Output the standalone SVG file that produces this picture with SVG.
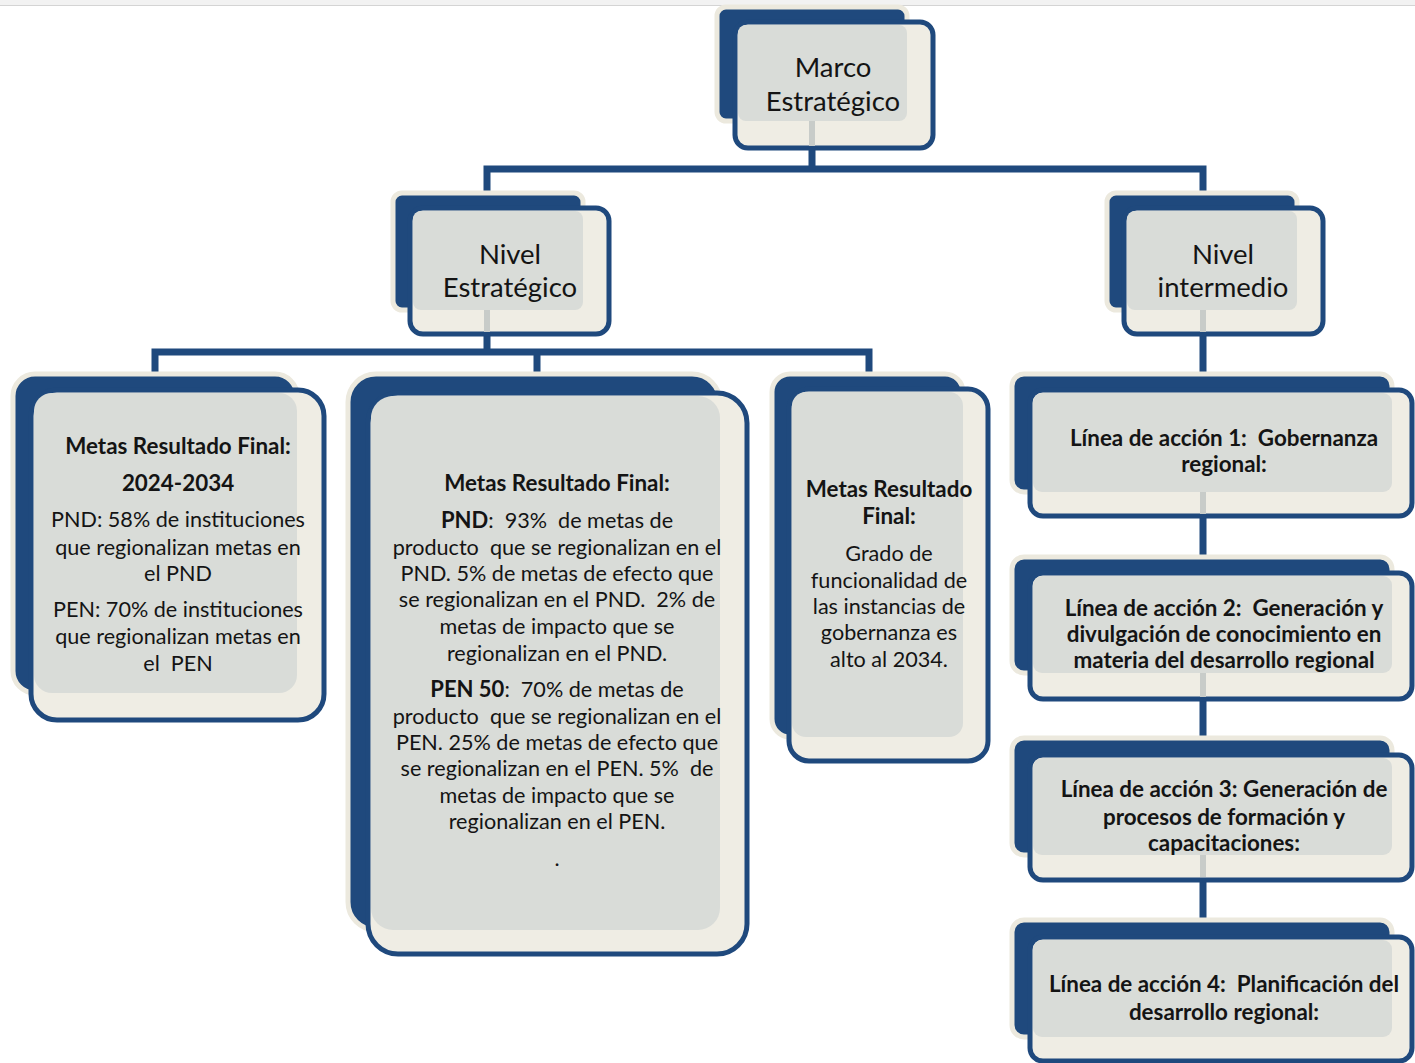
<svg xmlns="http://www.w3.org/2000/svg" width="1415" height="1063" viewBox="0 0 1415 1063" xml:space="preserve">
<style>
.bk{fill:#1f497d;stroke:#ece9de;stroke-width:5}
.fr{fill:#efede4;stroke:#1f497d;stroke-width:5}
.gr{fill:#d9dcd8}
.stub{fill:#c8ccc9}
.con{stroke:#1f497d;stroke-width:7;fill:none;stroke-linecap:butt}
.t{font-family:Lato,"Liberation Sans",sans-serif;fill:#141414;text-anchor:middle;white-space:pre}
.ti{font-size:27.5px}
.b{font-size:21.6px}
.bd{font-weight:bold;font-size:22.4px}
.b .bd{font-size:22px}
</style>
<rect x="0" y="0" width="1415" height="1063" fill="#ffffff"/>
<rect x="0" y="0" width="1415" height="5" fill="#f2f2f2"/>
<line x1="0" y1="5.5" x2="1415" y2="5.5" stroke="#d4d4d4" stroke-width="1"/>
<g id="connectors">
<path class="con" d="M812 140V169M483.5 169H1206.5M487 169V200M1203 169V200"/>
<path class="con" d="M487 320V352M151.5 352H872.5M155 352V380M537 352V380M869 352V380"/>
<path class="con" d="M1203 320V380M1203 500V565M1203 680V745M1203 862V928"/>
</g>
<g id="n-marco">
<rect class="bk" x="717" y="7" width="190" height="114" rx="9"/>
<rect class="fr" x="735" y="22" width="198" height="126" rx="13"/>
<rect class="gr" x="738" y="25" width="169" height="96" rx="8"/>
<rect class="stub" x="809" y="121" width="6" height="25"/>
<text class="t ti" x="833" y="77">Marco</text>
<text class="t ti" x="833" y="111">Estratégico</text>
</g>
<g id="n-nivel-estrategico">
<rect class="bk" x="393" y="193" width="190" height="117" rx="9"/>
<rect class="fr" x="410" y="208" width="199" height="126" rx="13"/>
<rect class="gr" x="413" y="211" width="170" height="99" rx="8"/>
<rect class="stub" x="484" y="310" width="6" height="22"/>
<text class="t ti" x="510" y="264">Nivel</text>
<text class="t ti" x="510" y="297">Estratégico</text>
</g>
<g id="n-nivel-intermedio">
<rect class="bk" x="1107" y="193" width="190" height="117" rx="9"/>
<rect class="fr" x="1124" y="208" width="199" height="126" rx="13"/>
<rect class="gr" x="1127" y="211" width="170" height="99" rx="8"/>
<rect class="stub" x="1200" y="310" width="6" height="22"/>
<text class="t ti" x="1223" y="264">Nivel</text>
<text class="t ti" x="1223" y="297">intermedio</text>
</g>
<g id="n-metas-2024">
<rect class="bk" x="13" y="374" width="284" height="319" rx="22"/>
<rect class="fr" x="31" y="390" width="293" height="330" rx="26"/>
<rect class="gr" x="34" y="393" width="263" height="300" rx="18"/>
<text class="t bd" x="178" y="454">Metas Resultado Final:</text>
<text class="t bd" x="178" y="491">2024-2034</text>
<text class="t b" x="178" y="527">PND: 58% de instituciones</text>
<text class="t b" x="178" y="555">que regionalizan metas en</text>
<text class="t b" x="178" y="581">el PND</text>
<text class="t b" x="178" y="617">PEN: 70% de instituciones</text>
<text class="t b" x="178" y="644">que regionalizan metas en</text>
<text class="t b" x="178" y="671">el  PEN</text>
</g>
<g id="n-metas-pnd-pen">
<rect class="bk" x="348" y="374" width="372" height="556" rx="28"/>
<rect class="fr" x="368" y="393" width="379" height="561" rx="30"/>
<rect class="gr" x="371" y="396" width="349" height="534" rx="22"/>
<text class="t bd" x="557" y="491">Metas Resultado Final:</text>
<text class="t b" x="557" y="528"><tspan class="bd">PND</tspan>:  93%  de metas de</text>
<text class="t b" x="557" y="555">producto  que se regionalizan en el</text>
<text class="t b" x="557" y="581">PND. 5% de metas de efecto que</text>
<text class="t b" x="557" y="607">se regionalizan en el PND.  2% de</text>
<text class="t b" x="557" y="634">metas de impacto que se</text>
<text class="t b" x="557" y="661">regionalizan en el PND.</text>
<text class="t b" x="557" y="697"><tspan class="bd">PEN 50</tspan>:  70% de metas de</text>
<text class="t b" x="557" y="724">producto  que se regionalizan en el</text>
<text class="t b" x="557" y="750">PEN. 25% de metas de efecto que</text>
<text class="t b" x="557" y="776">se regionalizan en el PEN. 5%  de</text>
<text class="t b" x="557" y="803">metas de impacto que se</text>
<text class="t b" x="557" y="829">regionalizan en el PEN.</text>
<text class="t b" x="557" y="866">.</text>
</g>
<g id="n-metas-gobernanza">
<rect class="bk" x="772" y="374" width="191" height="363" rx="18"/>
<rect class="fr" x="789" y="389" width="199" height="372" rx="20"/>
<rect class="gr" x="792" y="392" width="171" height="345" rx="14"/>
<text class="t bd" x="889" y="497">Metas Resultado</text>
<text class="t bd" x="889" y="524">Final:</text>
<text class="t b" x="889" y="561">Grado de</text>
<text class="t b" x="889" y="588">funcionalidad de</text>
<text class="t b" x="889" y="614">las instancias de</text>
<text class="t b" x="889" y="640">gobernanza es</text>
<text class="t b" x="889" y="667">alto al 2034.</text>
</g>
<g id="n-linea-1">
<rect class="bk" x="1012" y="374" width="380" height="118" rx="12"/>
<rect class="fr" x="1030" y="390" width="382" height="126" rx="13"/>
<rect class="gr" x="1033" y="393" width="359" height="99" rx="9"/>
<rect class="stub" x="1200" y="492" width="6" height="22"/>
<text class="t bd" x="1224" y="446">Línea de acción 1:  Gobernanza</text>
<text class="t bd" x="1224" y="472">regional:</text>
</g>
<g id="n-linea-2">
<rect class="bk" x="1012" y="557" width="380" height="116" rx="12"/>
<rect class="fr" x="1030" y="573" width="382" height="126" rx="13"/>
<rect class="gr" x="1033" y="576" width="359" height="97" rx="9"/>
<rect class="stub" x="1200" y="673" width="6" height="24"/>
<text class="t bd" x="1224" y="616">Línea de acción 2:  Generación y</text>
<text class="t bd" x="1224" y="642">divulgación de conocimiento en</text>
<text class="t bd" x="1224" y="668">materia del desarrollo regional</text>
</g>
<g id="n-linea-3">
<rect class="bk" x="1012" y="738" width="380" height="117" rx="12"/>
<rect class="fr" x="1030" y="755" width="382" height="125" rx="13"/>
<rect class="gr" x="1033" y="758" width="359" height="97" rx="9"/>
<rect class="stub" x="1200" y="855" width="6" height="22"/>
<text class="t bd" x="1224" y="797">Línea de acción 3: Generación de</text>
<text class="t bd" x="1224" y="825">procesos de formación y</text>
<text class="t bd" x="1224" y="851">capacitaciones:</text>
</g>
<g id="n-linea-4">
<rect class="bk" x="1012" y="920" width="380" height="117" rx="12"/>
<rect class="fr" x="1030" y="937" width="382" height="124" rx="13"/>
<rect class="gr" x="1033" y="940" width="359" height="97" rx="9"/>
<text class="t bd" x="1224" y="992">Línea de acción 4:  Planificación del</text>
<text class="t bd" x="1224" y="1020">desarrollo regional:</text>
</g>
</svg>
